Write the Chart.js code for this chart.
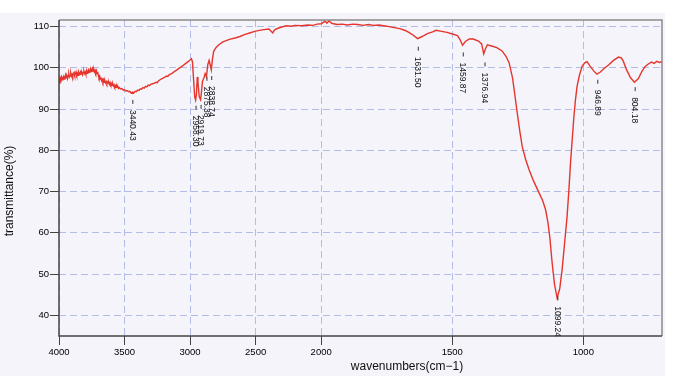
<!DOCTYPE html>
<html><head><meta charset="utf-8">
<style>html,body{margin:0;padding:0;background:#fff;}#wrap{width:680px;height:376px;position:relative;}</style>
<script src="https://cdn.jsdelivr.net/npm/chart.js@4"></script>
</head><body><div id="wrap"><canvas id="c" width="680" height="376"></canvas></div>
<script>
const wavenumbers=[4000,3995,3990,3985,3980,3975,3970,3965,3960,3955,3950,3945,3940,3935,3930,3925,3920,3915,3910,3905,3900,3895,3890,3885,3880,3875,3870,3865,3860,3855,3850,3845,3840,3835,3830,3825,3820,3815,3810,3805,3800,3795,3790,3785,3780,3775,3770,3765,3760,3755,3750,3745,3740,3735,3730,3725,3720,3715,3710,3705,3700,3695,3690,3685,3680,3675,3670,3665,3660,3655,3650,3645,3640,3635,3630,3625,3620,3615,3610,3605,3600,3595,3590,3585,3580,3575,3570,3565,3560,3555,3550,3545,3540,
3530,3520,3510,3500,3490,3480,3470,3460,3450,3440,3430,3420,3410,3400,3390,3380,3370,3360,3350,3340,3330,3320,3310,3300,3280,3260,3250,3240,3220,3200,3180,3170,3160,3140,3120,3100,3080,3060,3040,3020,3000,
2990,2982,2975,2965,2958,2952,2945,2940,2930,2920,2912,2905,2895,2885,2875,2865,2855,2845,2838,2830,2820,2800,2780,2750,2700,2650,2620,2580,2540,2500,2450,2400,2385,2370,2355,2330,2300,2266,2230,2200,2150,2100,2065,2030,2000,
1985,1978,1970,1960,1940,1920,1900,1880,1860,1840,1820,1800,1780,1750,1727,1700,1677,1655,1632,1615,1595,1575,1562,1545,1520,1499,1480,1470,1461,1450,1435,1420,1400,1388,1380,1374,1366,1350,1330,1310,1295,1283,1270,1264,1252,1242,1233,1220,1207,1190,1169,1155,1144,1135,1128,1119,1110,1100,1090,1081,1070,1062,1055,1049,1042,1036,1030,1024,1015,1005,995,986,975,960,948,935,920,904,885,866,855,847,835,820,805,790,777,765,751,740,730,720,710,700];
const transmittance=[97.4,97.0,97.6,97.2,97.8,97.1,97.5,97.9,97.3,97.7,98.3,97.6,97.9,97.4,98.2,98.5,97.8,98.1,98.7,98.0,98.4,97.9,98.6,98.9,98.2,98.5,99.0,98.3,98.7,98.2,98.9,98.4,98.8,99.1,98.5,98.8,98.3,98.9,99.2,98.6,98.9,98.4,99.3,98.7,99.0,99.5,98.9,99.3,99.8,99.1,99.6,99.9,99.2,99.6,99.0,99.4,98.8,99.3,98.6,99.0,98.2,97.6,98.0,97.3,97.7,96.9,97.2,96.6,97.1,96.5,96.9,96.4,96.7,96.2,96.6,96.3,96.5,96.0,96.4,95.9,96.2,95.8,96.1,95.6,95.9,95.4,95.7,95.3,95.6,95.2,95.4,95.0,95.2,
94.9,95.0,94.6,94.7,94.4,94.5,94.2,94.3,93.9,94.1,93.9,94.3,94.2,94.6,94.5,94.9,94.8,95.2,95.1,95.5,95.4,95.8,95.7,96.0,96.2,96.5,96.4,96.9,97.3,97.6,98.0,97.9,98.3,98.6,99.1,99.5,100.0,100.4,100.9,101.4,101.9,
102.2,101.5,98.0,93.0,92.2,93.5,97.8,96.5,93.0,92.3,94.5,96.8,97.5,98.6,97.9,100.8,101.8,100.5,99.5,102.0,104.0,105.0,105.6,106.3,106.9,107.3,107.6,108.1,108.5,108.9,109.2,109.4,109.0,108.5,109.2,109.6,109.9,110.2,110.1,110.3,110.2,110.4,110.3,110.6,110.7,
111.3,110.8,111.4,110.8,110.5,110.6,110.4,110.6,110.5,110.3,110.5,110.3,110.4,110.1,109.8,109.5,109.0,108.2,107.1,107.6,108.3,108.7,109.1,108.9,108.6,108.2,107.8,106.8,105.5,106.4,107.0,107.0,106.5,105.8,103.4,104.5,105.6,105.3,104.9,104.1,102.8,101.2,97.5,94.7,89.0,84.5,80.9,77.8,75.3,72.6,69.7,67.8,65.6,62.5,59.0,52.7,47.5,44.2,46.5,51.1,58.5,64.0,70.5,76.9,83.0,88.2,92.3,95.5,98.2,100.3,101.2,101.5,100.5,99.2,98.5,99.0,99.9,100.7,101.8,102.6,102.4,101.5,99.5,97.6,96.5,97.4,99.1,100.3,101.0,101.4,101.1,101.6,101.3,101.5];
const xTickValues=[4000,3500,3000,2500,2000,1500,1000];
const yTickValues=[40,50,60,70,80,90,100,110];
const peakWavenumbers=[3440.43,2958.30,2919.73,2875.38,2838.74,1631.50,1459.87,1376.94,1099.24,946.89,804.18];
const peakLabels=['3440.43','2958.30','2919.73','2875.38','2838.74','1631.50','1459.87','1376.94','1099.24','946.89','804.18'];
const peakLabelT=[89.8,88.4,88.6,95.4,95.6,102.7,101.3,98.9,42.2,94.7,92.9];
const xTitle='wavenumbers(cm\u22121)';
const yTitle='transmittance(%)';

function toU(w){return w>=2000?4000-w:2000+2*(2000-w);}
function fromU(u){return u<=2000?4000-u:2000-(u-2000)/2;}

const points=wavenumbers.map((w,i)=>({x:toU(w),y:transmittance[i]}));
const FONT='"Liberation Sans", Arial, sans-serif';

const bgPlugin={id:'bg',beforeDraw(chart){const c=chart.ctx,a=chart.chartArea;c.save();c.fillStyle='#fff';c.fillRect(0,0,chart.width,chart.height);c.fillStyle='#f4f4fa';c.fillRect(0,13,a.right+3,chart.height-13);c.restore();}};
const framePlugin={id:'frame',afterDraw(chart){const c=chart.ctx,a=chart.chartArea;c.save();
c.strokeStyle='#8a8a8a';c.lineWidth=1.5;c.beginPath();c.moveTo(a.left,a.top);c.lineTo(a.right,a.top);c.lineTo(a.right,a.bottom);c.stroke();
c.strokeStyle='#444';c.beginPath();c.moveTo(a.left,a.top);c.lineTo(a.left,a.bottom);c.lineTo(a.right,a.bottom);c.stroke();
c.fillStyle='#111';c.font='12px '+FONT;c.textAlign='center';c.textBaseline='middle';
c.fillText(xTitle,407,367);
c.save();c.translate(10,191);c.rotate(-Math.PI/2);c.fillText(yTitle,0,0);c.restore();
c.restore();}};
const peakPlugin={id:'peaks',afterDatasetsDraw(chart){const c=chart.ctx,xs=chart.scales.x,ys=chart.scales.y;c.save();
c.strokeStyle='#333';c.lineWidth=1;c.fillStyle='#111';c.font='8.5px '+FONT;c.textAlign='left';c.textBaseline='middle';
peakWavenumbers.forEach((w,i)=>{const x=xs.getPixelForValue(toU(w)),y=ys.getPixelForValue(peakLabelT[i]);
c.beginPath();c.moveTo(x+0.5,y-10);c.lineTo(x+0.5,y-6);c.stroke();
c.save();c.translate(x,y);c.rotate(Math.PI/2);c.fillText(peakLabels[i],0,0);c.restore();});
c.restore();}};

new Chart(document.getElementById('c'),{
type:'line',
data:{datasets:[{data:points,borderColor:'#e5352c',borderWidth:1.4,pointRadius:0,tension:0,fill:false}]},
options:{responsive:false,animation:false,
layout:{padding:{left:0,top:20,right:18,bottom:0}},
plugins:{legend:{display:false},tooltip:{enabled:false},title:{display:false}},
scales:{
x:{type:'linear',min:0,max:toU(700),
afterBuildTicks(s){s.ticks=xTickValues.map(v=>({value:toU(v)}));},
afterFit(s){s.height=40;},
ticks:{callback:(v)=>String(Math.round(fromU(v))),font:{size:9.5,family:FONT},color:'#000',padding:2,maxRotation:0,autoSkip:false},
grid:{color:'#b3bce6',tickColor:'#444',tickLength:9,lineWidth:1},
border:{display:false,dash:[7,4]}},
y:{type:'linear',min:35,max:111.6,
afterBuildTicks(s){s.ticks=yTickValues.map(v=>({value:v}));},
afterFit(s){s.width=59;},
ticks:{font:{size:9.5,family:FONT},color:'#000',padding:1},
grid:{color:'#b3bce6',tickColor:'#444',tickLength:9,lineWidth:1},
border:{display:false,dash:[7,4]}}
}},
plugins:[bgPlugin,peakPlugin,framePlugin]
});
</script></body></html>
